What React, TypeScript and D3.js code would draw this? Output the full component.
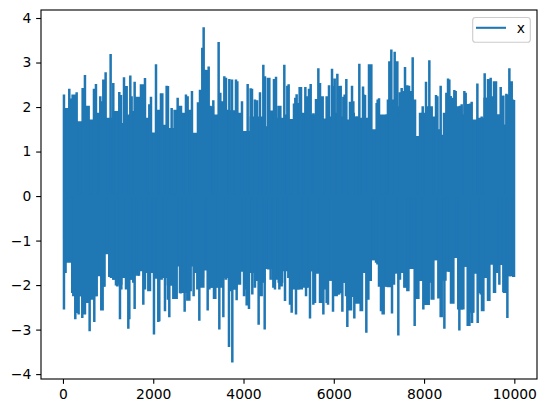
import React, { useEffect, useRef } from 'react';
import * as d3 from 'd3';

const BLUE = '#1f77b4';

// highest spikes
const peakX = [22,140,214,303,487,569,731,827,894,945,1056,1115,1248,1352,1411,1492,1588,1632,1728,1817,1950,2061,2171,2297,2408,2541,2615,2725,2858,2991,3036,3087,3117,3183,3228,3331,3449,3523,3575,3686,3833,3966,4092,4158,4254,4365,4439,4572,4720,4779,4904,5000,5118,5177,5244,5370,5488,5547,5658,5695,5754,5842,5894,5961,6020,6079,6153,6212,6278,6404,6507,6566,6648,6692,6780,6832,6950,7002,7172,7231,7275,7349,7408,7504,7578,7630,7704,7748,7800,7911,7970,8043,8117,8169,8265,8368,8442,8531,8590,8671,8745,8834,8893,8967,9055,9181,9277,9343,9417,9476,9550,9646,9698,9757,9823,9890,9942,9993];
const peakY = [2.28,2.41,2.28,2.33,2.72,2.03,2.52,2.24,2.62,2.78,3.19,2.54,2.34,2.67,2.47,2.71,2.57,2.23,2.51,2.65,2.23,2.96,2.31,2.48,1.98,2.21,2.03,2.28,2.36,2.11,2.39,3.33,3.79,2.83,2.91,2.15,3.46,2.13,2.69,2.63,2.62,2.13,2.52,2.42,2.17,2.33,2.95,2.66,2.68,2.03,2.95,2.51,2.08,2.29,2.45,2.45,2.52,1.86,2.87,2.54,2.24,2.24,2.49,2.86,2.64,2.75,2.48,2.23,2.63,2.48,1.79,2.97,2.46,2.27,2.96,2.96,2.09,2.20,1.83,3.03,3.29,3.24,3.03,2.43,2.90,2.49,2.36,3.12,2.17,1.87,2.02,2.57,3.05,2.02,2.27,2.48,1.87,2.64,2.25,2.38,2.02,2.06,2.36,2.07,2.12,2.53,1.79,2.76,2.63,2.66,2.58,1.83,2.45,2.26,2.30,2.87,2.58,2.16];

// smaller spikes and shoulders between them
const minorPeakX = [170,251,436,532,687,864,1285,1389,1521,1677,1765,1913,2201,2326,2578,2762,3050,3154,3265,3486,3612,3745,3863,4188,4299,4476,4542,4675,4816,4971,5148,5274,5399,5451,5606,5724,5872,5990,6123,6241,6359,6433,6670,6803,6972,7253,7379,7467,7541,7667,7726,8080,8295,8494,8560,8634,8701,8797,8922,9018,9373,9447,9513,9594,9727,9860];
const minorPeakY = [2.19,2.28,2.43,2.03,2.41,2.13,2.27,2.47,2.24,2.23,2.51,2.06,2.31,2.47,2.03,2.24,2.39,2.84,2.03,2.32,2.66,2.62,2.58,2.41,2.15,2.69,2.66,2.63,2.03,2.48,2.21,2.45,2.24,2.41,2.18,2.24,2.24,2.47,2.47,2.28,2.12,2.13,2.28,2.96,2.17,3.03,3.03,2.33,2.36,2.48,2.36,2.02,2.24,2.32,2.62,2.21,2.36,2.03,2.32,2.08,2.21,2.62,2.24,2.58,2.24,2.28];

// lowest spikes
const troughX = [22,273,347,428,487,591,657,694,746,849,916,1027,1115,1204,1263,1337,1448,1499,1588,1684,1780,1928,2016,2112,2186,2260,2356,2408,2489,2607,2696,2799,2895,2940,3021,3110,3206,3294,3375,3464,3553,3612,3678,3752,3848,3922,4011,4070,4121,4195,4335,4402,4469,4550,4661,4794,4919,5030,5067,5163,5214,5266,5340,5399,5473,5510,5547,5636,5695,5769,5806,5872,5931,5983,6064,6138,6190,6234,6300,6382,6404,6455,6529,6596,6670,6721,6802,6877,6936,7002,7046,7105,7172,7246,7290,7364,7430,7519,7563,7652,7726,7792,7851,7925,7984,8073,8132,8169,8258,8317,8368,8450,8561,8649,8671,8782,8871,8922,9004,9063,9144,9188,9255,9314,9373,9447,9498,9550,9609,9668,9698,9757,9846,9905,9993];
const troughY = [-2.55,-2.77,-2.66,-2.74,-2.66,-3.04,-2.33,-2.83,-2.25,-2.57,-2.04,-1.82,-1.88,-2.03,-2.77,-1.84,-2.98,-1.88,-2.54,-1.79,-2.44,-2.14,-3.11,-2.83,-1.88,-2.59,-2.72,-2.01,-2.31,-2.19,-2.60,-2.35,-2.25,-1.73,-2.80,-2.06,-2.57,-2.06,-2.31,-3.00,-2.72,-1.88,-3.39,-3.74,-2.34,-1.99,-2.25,-2.46,-2.54,-2.21,-2.89,-2.25,-3.00,-1.65,-2.06,-2.10,-2.36,-2.44,-2.62,-2.66,-2.10,-1.77,-1.95,-2.06,-2.75,-1.69,-2.44,-1.74,-2.40,-2.66,-2.10,-2.44,-1.90,-2.60,-2.25,-2.18,-2.60,-1.95,-2.94,-2.57,-2.27,-2.75,-2.42,-2.59,-1.73,-3.07,-1.91,-1.44,-1.50,-2.04,-2.59,-2.66,-2.04,-2.05,-2.64,-1.74,-3.13,-1.73,-2.06,-2.14,-1.64,-2.92,-2.31,-1.91,-2.55,-2.45,-1.95,-2.33,-1.44,-2.30,-2.72,-2.98,-1.70,-2.42,-1.39,-3.02,-2.55,-1.59,-2.92,-2.85,-1.74,-2.85,-2.21,-2.59,-1.84,-2.36,-1.54,-2.18,-1.73,-1.99,-1.55,-2.16,-2.74,-1.80,-1.82];

const minorTroughX = [229,310,391,458,539,613,724,798,879,1064,1174,1293,1396,1470,1558,1817,1891,2134,2326,2445,2519,2592,2666,2755,2829,2977,3073,3243,3346,3434,3516,3715,3796,3885,4254,4365,4601,4697,4845,4993,5118,5385,5584,5732,5842,6027,6101,6271,6345,6492,6559,6625,6766,7083,7209,7334,7467,7630,7874,8021,8103,8206,8391,8597,8834,8967,9092,9284,9417,9572,9779];
const minorTroughY = [-2.25,-2.63,-2.25,-2.66,-2.40,-2.33,-2.25,-1.80,-2.57,-1.84,-2.01,-2.10,-2.10,-2.77,-1.95,-2.10,-2.14,-2.81,-2.33,-2.31,-2.31,-2.18,-2.10,-2.35,-2.14,-2.10,-2.06,-2.10,-2.31,-2.06,-2.06,-2.14,-2.10,-1.99,-2.06,-2.25,-1.88,-2.10,-2.03,-1.84,-2.10,-2.25,-2.40,-2.40,-2.40,-2.25,-2.21,-2.25,-2.57,-2.42,-2.42,-2.59,-2.33,-2.66,-2.05,-1.99,-1.88,-2.14,-2.31,-2.45,-2.45,-2.33,-2.72,-2.42,-2.55,-2.92,-2.62,-2.59,-2.36,-2.18,-2.18];

// where the solid part of the trace stops, above zero
const bodyTopX = [0,81,377,598,783,1005,1174,1322,1448,1558,1669,1869,2002,2112,2238,2371,2519,2666,2814,2925,3146,3294,3405,3626,3759,3922,4055,4217,4402,4513,4624,4845,4956,5067,5214,5325,5547,5658,5798,5916,6027,6175,6323,6433,6507,6618,6766,6899,7024,7135,7209,7467,7652,7874,7984,8206,8339,8428,8538,8760,8945,9107,9240,9388,9631,9794,9993,10000];
const bodyTopY = [1.98,1.98,1.68,1.72,1.87,1.76,1.91,1.64,1.83,1.91,1.98,1.76,1.43,1.94,1.60,1.53,1.94,1.87,1.94,1.42,1.35,2.02,1.83,1.94,1.93,1.87,1.46,1.79,1.79,1.57,1.92,1.76,1.83,1.73,2.09,1.87,1.83,2.17,1.74,1.79,1.87,1.79,1.72,1.87,1.79,1.76,1.76,1.50,1.83,1.83,2.17,2.02,1.50,1.35,1.87,1.79,1.50,1.38,1.87,1.87,1.83,1.72,1.76,2.21,1.83,1.61,2.17,1.35];

// same, below zero
const bodyBottomX = [0,44,126,229,377,561,709,820,916,968,1041,1152,1263,1374,1522,1632,1743,1854,1965,2075,2186,2408,2533,2666,2851,2962,3073,3183,3331,3516,3626,3774,3959,4070,4180,4291,4424,4550,4697,4808,4956,5104,5237,5399,5510,5636,5746,5828,5931,6064,6234,6411,6544,6670,6802,6891,6987,7135,7364,7519,7615,7726,7837,7925,8058,8132,8258,8354,8442,8561,8664,8797,8922,9055,9144,9255,9373,9498,9609,9698,9794,9905,9993,10000];
const bodyBottomY = [-0.97,-1.73,-1.50,-2.18,-2.25,-1.76,-2.25,-1.69,-2.03,-1.31,-1.80,-1.88,-1.99,-1.84,-1.88,-1.79,-1.69,-1.73,-1.73,-1.86,-1.84,-2.01,-1.58,-2.18,-1.58,-1.73,-1.84,-1.67,-2.06,-1.88,-1.84,-2.10,-1.70,-2.10,-1.73,-1.91,-1.95,-1.64,-1.88,-1.95,-1.69,-1.99,-2.10,-2.06,-1.69,-1.74,-1.84,-1.91,-1.90,-2.21,-1.95,-2.27,-2.40,-1.73,-1.91,-1.44,-1.54,-2.04,-1.74,-1.73,-2.06,-1.64,-2.31,-1.91,-1.90,-1.88,-1.44,-2.25,-1.90,-1.70,-1.39,-2.55,-1.59,-2.62,-1.74,-2.18,-1.84,-1.54,-1.73,-1.55,-2.18,-1.80,-1.82,-1.82];

const xTicks = [0, 2000, 4000, 6000, 8000, 10000];
const yTicks = [-4, -3, -2, -1, 0, 1, 2, 3, 4];
const legendLabel = 'x';

const App: React.FC = () => {
  const svgRef = useRef<SVGSVGElement>(null);

  useEffect(() => {
    if (!svgRef.current) return;
    const width = 546;
    const height = 413;
    const margin = { top: 10, right: 9, bottom: 34, left: 41 };
    const font = '"DejaVu Sans", sans-serif';

    const svg = d3.select(svgRef.current);
    svg.selectAll('*').remove();

    const x = d3.scaleLinear().domain([-500, 10500]).range([margin.left - 0.6, width - margin.right - 0.1]);
    const y = d3.scaleLinear().domain([-4.11, 4.18]).range([height - margin.bottom, margin.top]);

    const body = (xs: number[], ys: number[]) =>
      d3.area<number>()
        .x(d => x(xs[d]))
        .y0(y(0))
        .y1(d => y(ys[d]))
        .curve(d3.curveStep)(d3.range(xs.length));

    svg.append('path').attr('d', body(bodyTopX, bodyTopY)).attr('fill', BLUE);
    svg.append('path').attr('d', body(bodyBottomX, bodyBottomY)).attr('fill', BLUE);

    // every spike leaves the middle of the band and comes back to it
    const toPairs = (xs: number[], ys: number[]) => xs.map((d, i) => [d, ys[i]]);
    const extremes = [
      ...toPairs(peakX, peakY),
      ...toPairs(minorPeakX, minorPeakY),
      ...toPairs(troughX, troughY),
      ...toPairs(minorTroughX, minorTroughY)
    ].sort((a, b) => a[0] - b[0]);
    const trace = extremes.flatMap(([a, b]) => [[a, 0], [a, b], [a, 0]]);

    const line = d3.line<number[]>().x(d => x(d[0])).y(d => y(d[1]));
    svg.append('path')
      .attr('d', line(trace))
      .attr('fill', 'none')
      .attr('stroke', BLUE)
      .attr('stroke-width', 2.5)
      .attr('stroke-linejoin', 'bevel');

    const xAxis = svg.append('g')
      .attr('transform', `translate(0,${height - margin.bottom})`)
      .call(d3.axisBottom(x).tickValues(xTicks).tickFormat(d3.format('d')).tickSizeOuter(0).tickSize(4.86).tickPadding(4.86));
    const yAxis = svg.append('g')
      .attr('transform', `translate(${margin.left},0)`)
      .call(d3.axisLeft(y).tickValues(yTicks).tickFormat(d => String(d).replace('-', '\u2212')).tickSizeOuter(0).tickSize(4.86).tickPadding(4.86));

    [xAxis, yAxis].forEach(axis => {
      axis.select('.domain').remove();
      axis.selectAll('line').attr('stroke', '#000').attr('stroke-width', 1.11);
      axis.selectAll('text').attr('fill', '#000').attr('font-family', font).attr('font-size', 13.89);
    });

    svg.append('rect')
      .attr('x', margin.left)
      .attr('y', margin.top)
      .attr('width', width - margin.left - margin.right)
      .attr('height', height - margin.top - margin.bottom)
      .attr('fill', 'none')
      .attr('stroke', '#000')
      .attr('stroke-width', 1.11);

    const legend = svg.append('g');
    legend.append('rect')
      .attr('x', 472.7)
      .attr('y', 17.5)
      .attr('width', 57.6)
      .attr('height', 24.8)
      .attr('rx', 2.8)
      .attr('fill', '#fff')
      .attr('fill-opacity', 0.8)
      .attr('stroke', '#ccc')
      .attr('stroke-width', 1.11);
    legend.append('line')
      .attr('x1', 476)
      .attr('x2', 506)
      .attr('y1', 27.8)
      .attr('y2', 27.8)
      .attr('stroke', BLUE)
      .attr('stroke-width', 2.08);
    legend.append('text')
      .attr('x', 516.7)
      .attr('y', 33)
      .attr('font-family', font)
      .attr('font-size', 13.89)
      .attr('fill', '#000')
      .text(legendLabel);
  }, []);

  return (
    <svg
      ref={svgRef}
      width={546}
      height={413}
      style={{ position: 'absolute', left: 0, top: 0, display: 'block', background: '#fff' }}
    />
  );
};

export default App;
